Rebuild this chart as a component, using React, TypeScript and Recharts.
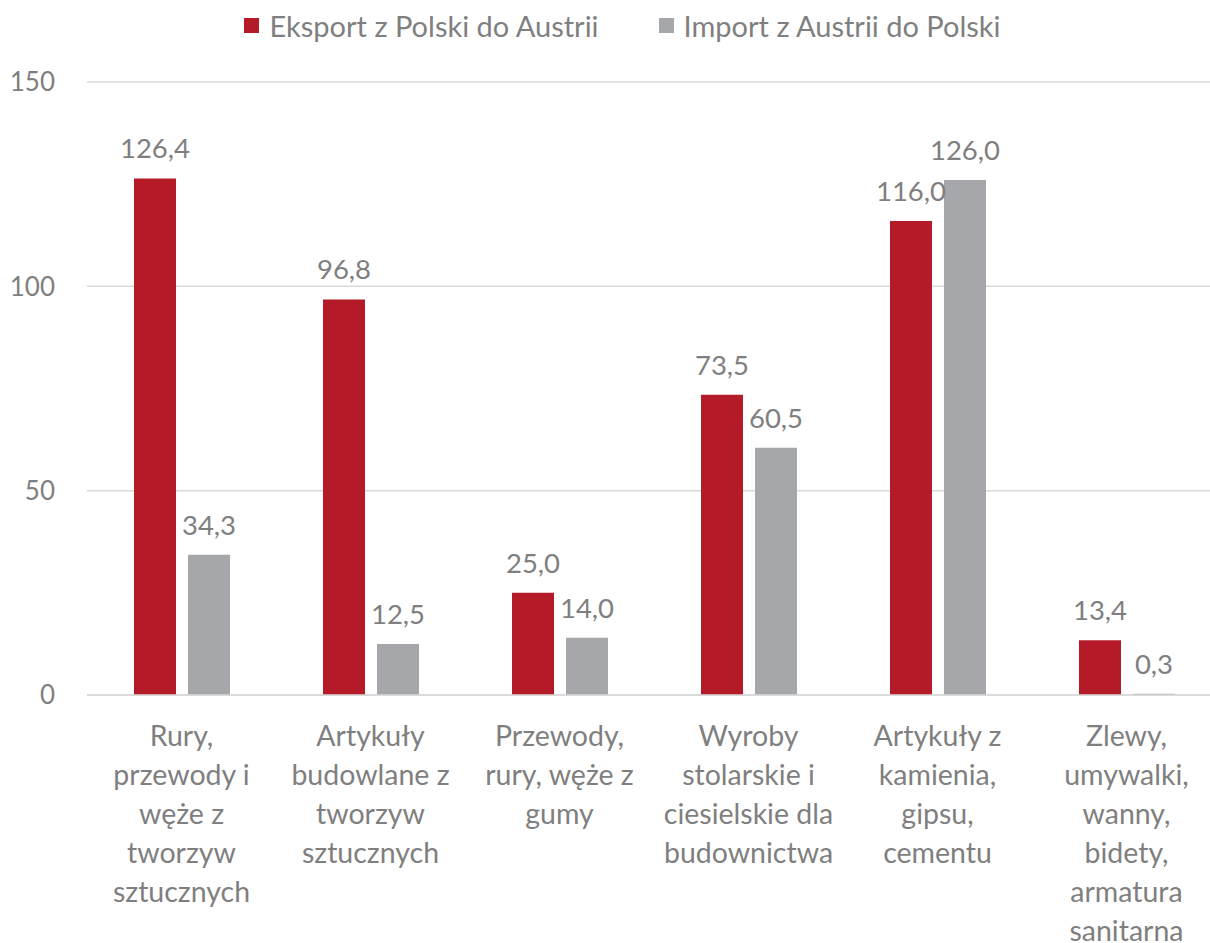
import React from 'react';
import {
  BarChart,
  Bar,
  XAxis,
  YAxis,
  CartesianGrid,
  Legend,
  LabelList,
} from 'recharts';

const categories: string[][] = [
  ['Rury,', 'przewody i', 'węże z', 'tworzyw', 'sztucznych'],
  ['Artykuły', 'budowlane z', 'tworzyw', 'sztucznych'],
  ['Przewody,', 'rury, węże z', 'gumy'],
  ['Wyroby', 'stolarskie i', 'ciesielskie dla', 'budownictwa'],
  ['Artykuły z', 'kamienia,', 'gipsu,', 'cementu'],
  ['Zlewy,', 'umywalki,', 'wanny,', 'bidety,', 'armatura', 'sanitarna'],
];
const eksport = [126.4, 96.8, 25.0, 73.5, 116.0, 13.4];
const importVals = [34.3, 12.5, 14.0, 60.5, 126.0, 0.3];
const yTicks = [0, 50, 100, 150];

const seriesNames = ['Eksport z Polski do Austrii', 'Import z Austrii do Polski'];
const RED = '#B51A29';
const GRAY = '#A5A7AA';
const TEXT = '#7F7F7F';
const FONT = 'Lato, "Open Sans", sans-serif';

const data = categories.map((lines, i) => ({
  key: String(i),
  eksport: eksport[i],
  import: importVals[i],
}));

const fmt = (v: any) => Number(v).toFixed(1).replace('.', ',');

function CategoryTick(props: any) {
  const { x, y, payload } = props;
  const lines = categories[Number(payload.value)] || [];
  return (
    <text x={x} y={y} textAnchor="middle" fill={TEXT} fontSize={28.5} fontFamily={FONT}>
      {lines.map((l, i) => (
        <tspan key={i} x={x} dy={i === 0 ? 43 : 39}>
          {l}
        </tspan>
      ))}
    </text>
  );
}

function ValueLabel(props: any) {
  const { x, y, width, value } = props;
  return (
    <text
      x={x + width / 2}
      y={y - 20}
      textAnchor="middle"
      fill={TEXT}
      fontSize={27.5}
      fontFamily={FONT}
    >
      {fmt(value)}
    </text>
  );
}

function LegendContent() {
  const colors = [RED, GRAY];
  return (
    <div
      style={{
        display: 'flex',
        justifyContent: 'center',
        gap: 60,
        height: 50,
        paddingLeft: 35,
        fontFamily: FONT,
        fontSize: 29,
        color: TEXT,
        alignItems: 'flex-start',
        paddingTop: 8,
        boxSizing: 'border-box',
      }}
    >
      {seriesNames.map((n, i) => (
        <div key={n} style={{ display: 'flex', alignItems: 'center' }}>
          <span
            style={{
              width: 15,
              height: 15,
              background: colors[i],
              display: 'inline-block',
              marginRight: 10,
            }}
          />
          <span>{n}</span>
        </div>
      ))}
    </div>
  );
}

export default function App() {
  return (
    <div style={{ position: 'absolute', left: 0, top: 0, width: 1210, height: 943, background: '#fff', overflow: 'hidden' }}>
      <BarChart
        width={1210}
        height={943}
        data={data}
        margin={{ top: 32, right: -11, left: 0, bottom: 8 }}
        barGap={12}
        barSize={42}
      >
        <CartesianGrid vertical={false} stroke="#D9D9D9" strokeWidth={1.5} />
        <XAxis
          dataKey="key"
          tick={<CategoryTick />}
          tickLine={false}
          axisLine={{ stroke: '#D9D9D9', strokeWidth: 1.5 }}
          height={240}
          interval={0}
        />
        <YAxis
          domain={[0, 150]}
          ticks={yTicks}
          tickLine={false}
          axisLine={false}
          width={87}
          tickMargin={26}
          tick={{ fill: TEXT, fontSize: 26, fontFamily: FONT }}
        />
        <Legend
          verticalAlign="top"
          wrapperStyle={{ left: 0, width: 1210, top: 0 }}
          content={<LegendContent />}
        />
        <Bar dataKey="eksport" name={seriesNames[0]} fill={RED} isAnimationActive={false}>
          <LabelList dataKey="eksport" content={<ValueLabel />} />
        </Bar>
        <Bar dataKey="import" name={seriesNames[1]} fill={GRAY} isAnimationActive={false}>
          <LabelList dataKey="import" content={<ValueLabel />} />
        </Bar>
      </BarChart>
    </div>
  );
}
